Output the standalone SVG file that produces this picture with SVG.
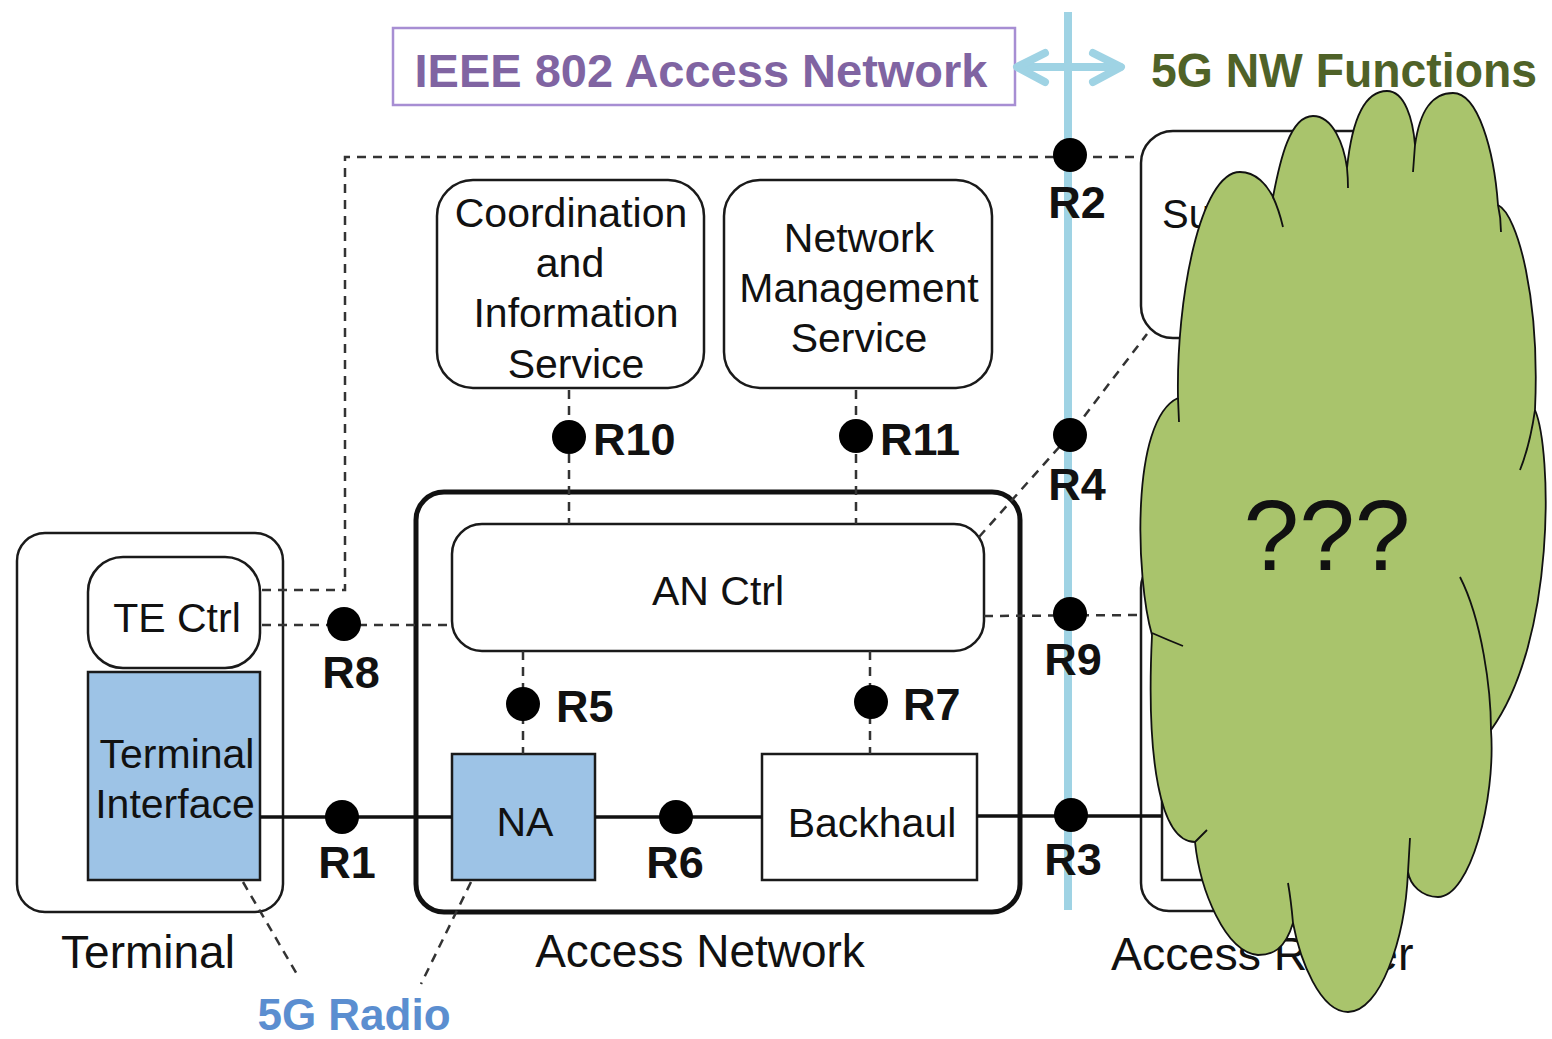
<svg xmlns="http://www.w3.org/2000/svg" width="1552" height="1039" viewBox="0 0 1552 1039">
<defs>
<style>
text{font-family:"Liberation Sans",Arial,Helvetica,sans-serif;fill:#111}
.t{font-size:41px;text-anchor:middle}
.lb{font-size:46px;text-anchor:middle}
.r{font-size:45px;font-weight:bold}
.rc{font-size:45px;font-weight:bold;text-anchor:middle}
.box{fill:#fff;stroke:#1a1a1a;stroke-width:2.5}
.thick{fill:#fff;stroke:#111;stroke-width:5}
.ifc{fill:#9dc3e6;stroke:#1a1a1a;stroke-width:2.5}
.dash{fill:none;stroke:#333;stroke-width:2.5;stroke-dasharray:9 7}
.solid{fill:none;stroke:#111;stroke-width:3.5}
.dot{fill:#000}
.sky{fill:none;stroke:#9fd3e4;stroke-width:8;stroke-linecap:round;stroke-linejoin:round}
.cloud{fill:#a9c46c;stroke:#111;stroke-width:1.8}
.crease{fill:none;stroke:#111;stroke-width:1.8}
</style>
</defs>
<rect width="1552" height="1039" fill="#fff"/>

<g id="title">
<rect x="393" y="28" width="622" height="77" fill="none" stroke="#a78ed3" stroke-width="2.5"/>
<text x="701" y="87" font-size="47" font-weight="bold" text-anchor="middle" style="fill:#8064a2">IEEE 802 Access Network</text>
</g>
<g id="nw-functions-title">
<text x="1151" y="87" font-size="48" font-weight="bold" textLength="386" lengthAdjust="spacingAndGlyphs" style="fill:#4f6228">5G NW Functions</text>
</g>

<g id="terminal">
<rect class="box" x="17" y="533" width="266" height="379" rx="28"/>
<text class="lb" x="148" y="968" font-size="45">Terminal</text>
</g>
<g id="te-ctrl">
<rect class="box" x="88" y="557" width="172" height="111" rx="35"/>
<text class="t" x="177" y="632">TE Ctrl</text>
</g>
<g id="terminal-interface">
<rect class="ifc" x="88" y="672" width="172" height="208"/>
<text class="t" x="177" y="768">Terminal</text>
<text class="t" x="175" y="818">Interface</text>
</g>

<g id="coordination-info-service">
<rect class="box" x="437" y="180" width="267" height="208" rx="36"/>
<text class="t" x="571" y="227">Coordination</text>
<text class="t" x="570" y="277">and</text>
<text class="t" x="576" y="327">Information</text>
<text class="t" x="576" y="378">Service</text>
</g>
<g id="network-management-service">
<rect class="box" x="724" y="180" width="268" height="208" rx="36"/>
<text class="t" x="859" y="252">Network</text>
<text class="t" x="859" y="302">Management</text>
<text class="t" x="859" y="352">Service</text>
</g>

<g id="access-network">
<rect class="thick" x="416" y="492" width="604" height="420" rx="28"/>
<text class="lb" x="700" y="967">Access Network</text>
</g>
<g id="an-ctrl">
<rect class="box" x="452" y="524" width="532" height="127" rx="30"/>
<text class="t" x="718" y="605">AN Ctrl</text>
</g>
<g id="na">
<rect class="ifc" x="452" y="754" width="143" height="126"/>
<text class="t" x="525" y="836">NA</text>
</g>
<g id="backhaul">
<rect class="box" x="762" y="754" width="215" height="126"/>
<text class="t" x="872" y="837">Backhaul</text>
</g>

<g id="su-box">
<rect class="box" x="1141" y="131" width="250" height="207" rx="32"/>
<text x="1162" y="228" font-size="40">Su</text>
</g>
<g id="access-router">
<rect class="box" x="1141" y="560" width="250" height="351" rx="28"/>
<rect class="box" x="1162" y="790" width="150" height="90"/>
<text x="1111" y="970" font-size="46.5">Access Router</text>
</g>

<g id="connectors">
<polyline class="dash" points="262,590 345,590 345,157 1141,157"/>
<line class="dash" x1="262" y1="625" x2="452" y2="625"/>
<line class="dash" x1="569" y1="390" x2="569" y2="524"/>
<line class="dash" x1="856" y1="390" x2="856" y2="524"/>
<line class="dash" x1="523" y1="651" x2="523" y2="754"/>
<line class="dash" x1="870" y1="651" x2="870" y2="754"/>
<polyline class="dash" points="979,537 1070,435 1147,334"/>
<line class="dash" x1="984" y1="616" x2="1141" y2="615"/>
<line class="dash" x1="243" y1="882" x2="298" y2="976"/>
<line class="dash" x1="471" y1="882" x2="421" y2="984"/>
<line class="solid" x1="260" y1="817" x2="452" y2="817"/>
<line class="solid" x1="595" y1="817" x2="762" y2="817"/>
<line class="solid" x1="977" y1="816" x2="1162" y2="816"/>
</g>

<g id="boundary">
<line class="sky" x1="1068" y1="12" x2="1068" y2="910" stroke-linecap="butt" style="stroke-linecap:butt"/>
<line class="sky" x1="1018" y1="67" x2="1120" y2="67"/>
<polyline class="sky" points="1045,53 1017,67 1045,82"/>
<polyline class="sky" points="1093,53 1121,67 1093,82"/>
</g>

<g id="reference-points">
<g id="R1"><circle class="dot" cx="342" cy="817" r="17"/><text class="rc" x="347" y="878">R1</text></g>
<g id="R2"><circle class="dot" cx="1070" cy="155" r="17"/><text class="rc" x="1077" y="218">R2</text></g>
<g id="R3"><circle class="dot" cx="1071" cy="815" r="17"/><text class="rc" x="1073" y="875">R3</text></g>
<g id="R4"><circle class="dot" cx="1070" cy="435" r="17"/><text class="rc" x="1077" y="500">R4</text></g>
<g id="R5"><circle class="dot" cx="523" cy="704" r="17"/><text class="r" x="556" y="722">R5</text></g>
<g id="R6"><circle class="dot" cx="676" cy="817" r="17"/><text class="rc" x="675" y="878">R6</text></g>
<g id="R7"><circle class="dot" cx="871" cy="702" r="17"/><text class="r" x="903" y="720">R7</text></g>
<g id="R8"><circle class="dot" cx="344" cy="624" r="17"/><text class="rc" x="351" y="688">R8</text></g>
<g id="R9"><circle class="dot" cx="1070" cy="614" r="17"/><text class="rc" x="1073" y="675">R9</text></g>
<g id="R10"><circle class="dot" cx="569" cy="437" r="17"/><text class="r" x="593" y="455">R10</text></g>
<g id="R11"><circle class="dot" cx="856" cy="436" r="17"/><text class="r" x="880" y="455">R11</text></g>
</g>

<g id="radio-label">
<text x="354" y="1030" font-size="44" font-weight="bold" text-anchor="middle" style="fill:#5b8ed0">5G Radio</text>
</g>

<g id="cloud">
<path class="cloud" d="M1178,398 C1176,300 1200,172 1240,172 C1256,172 1267,185 1273,197 C1280,160 1290,116 1313,116 C1333,116 1344,145 1347,168 C1352,120 1365,91 1387,91 C1405,91 1413,120 1415,145 C1420,110 1432,93 1453,93 C1478,93 1494,150 1498,205 C1518,215 1540,300 1535,410 C1552,450 1556,640 1491,730 C1496,800 1470,897 1438,897 C1422,897 1410,885 1408,872 C1405,940 1380,1012 1348,1012 C1320,1012 1300,960 1293,923 C1285,950 1272,955 1258,955 C1225,952 1200,890 1195,842 C1160,842 1146,760 1152,635 C1136,580 1130,420 1178,398 Z"/>
<path class="crease" d="M1273,197 Q1279,210 1283,227 M1347,168 Q1348,178 1348,188 M1415,145 L1413,172 M1498,205 Q1501,218 1501,232 M1535,410 Q1530,445 1520,470 M1491,730 C1491,690 1482,620 1460,577 M1408,872 L1410,838 M1293,923 Q1291,900 1288,883 M1195,842 L1207,830 M1152,633 Q1168,640 1183,646 M1178,398 L1179,422"/>
<text x="1327" y="570" font-size="100" text-anchor="middle">???</text>
</g>
</svg>
